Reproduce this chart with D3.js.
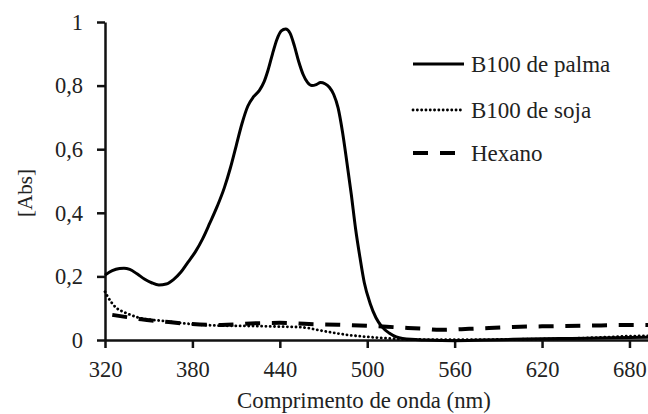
<!DOCTYPE html>
<html>
<head>
<meta charset="utf-8">
<script src="https://cdn.jsdelivr.net/npm/d3@7"></script>
<style>
  body { margin: 0; background: #fff; }
  svg { display: block; }
  text { font-family: "Liberation Serif", "Times New Roman", serif; fill: #222; }
</style>
</head>
<body>
<div id="chart"></div>
<script>
// Wavelength (nm) and absorbance
const palmaNm = [320, 325, 330, 333, 337, 342, 347, 352, 357, 362, 367, 372, 377, 382, 387, 392, 397, 402, 406, 410, 414, 418, 422, 426, 429, 432, 435, 438, 441, 444, 447, 450, 453, 456, 459, 462, 465, 468, 471, 474, 477, 480, 483, 486, 489, 492, 495, 498, 502, 506, 510, 515, 520, 530, 540, 560, 580, 600, 620, 640, 660, 680, 700];
const palmaAbs = [0.204, 0.218, 0.225, 0.226, 0.222, 0.208, 0.192, 0.180, 0.173, 0.176, 0.190, 0.213, 0.245, 0.277, 0.318, 0.368, 0.420, 0.480, 0.540, 0.610, 0.680, 0.735, 0.765, 0.785, 0.810, 0.850, 0.900, 0.945, 0.972, 0.978, 0.965, 0.925, 0.875, 0.835, 0.810, 0.800, 0.803, 0.810, 0.806, 0.795, 0.772, 0.730, 0.655, 0.560, 0.460, 0.350, 0.260, 0.180, 0.115, 0.070, 0.042, 0.022, 0.010, 0.002, 0.000, -0.002, 0.000, 0.002, 0.004, 0.005, 0.006, 0.008, 0.009];

const sojaNm = [320, 322, 325, 328, 331, 336, 345, 360, 380, 400, 420, 440, 455, 470, 485, 500, 515, 530, 560, 600, 640, 660, 680, 700];
const sojaAbs = [0.152, 0.135, 0.115, 0.100, 0.092, 0.082, 0.068, 0.060, 0.050, 0.045, 0.044, 0.042, 0.040, 0.028, 0.017, 0.010, 0.005, 0.002, 0.001, 0.002, 0.005, 0.008, 0.012, 0.013];

const hexanoNm = [325, 335, 345, 360, 380, 400, 420, 440, 460, 480, 500, 520, 540, 550, 570, 600, 620, 650, 680, 700];
const hexanoAbs = [0.079, 0.072, 0.065, 0.058, 0.050, 0.047, 0.052, 0.054, 0.050, 0.048, 0.045, 0.040, 0.035, 0.032, 0.035, 0.041, 0.043, 0.045, 0.047, 0.047];

const xTicks = [320, 380, 440, 500, 560, 620, 680];
const yTicks = [0, 0.2, 0.4, 0.6, 0.8, 1];

const seriesNames = ["B100 de palma", "B100 de soja", "Hexano"];

const width = 648, height = 414;

const svg = d3.select("#chart").append("svg")
    .attr("width", width)
    .attr("height", height);

const x = d3.scaleLinear().domain([320, 700]).range([105, 658.6]);
const y = d3.scaleLinear().domain([0, 1]).range([340, 22]);

const fmt = d => d === 0 ? "0" : d === 1 ? "1" : d3.format(".1f")(d).replace(".", ",");

// axes
const xAxis = svg.append("g")
    .attr("transform", `translate(0,${y(0)})`)
    .call(d3.axisBottom(x).tickValues(xTicks).tickSize(8).tickSizeOuter(0).tickPadding(13));

const yAxis = svg.append("g")
    .attr("transform", `translate(${x(320)},0)`)
    .call(d3.axisLeft(y).tickValues(yTicks).tickSize(8).tickSizeOuter(0).tickPadding(14).tickFormat(fmt));

[xAxis, yAxis].forEach(g => {
    g.select(".domain").attr("stroke", "#111").attr("stroke-width", 2.5);
    g.selectAll(".tick line").attr("stroke", "#111").attr("stroke-width", 2.5);
    g.selectAll(".tick text")
        .attr("fill", "#222")
        .style("font-family", "'Liberation Serif', serif")
        .style("font-size", "22.5px");
});

// axis titles
svg.append("text")
    .attr("x", 364)
    .attr("y", 408)
    .attr("text-anchor", "middle")
    .style("font-size", "22.8px")
    .text("Comprimento de onda (nm)");

svg.append("text")
    .attr("transform", `translate(32,193) rotate(-90)`)
    .attr("text-anchor", "middle")
    .style("font-size", "21px")
    .text("[Abs]");

// lines
const line = d3.line()
    .x(d => x(d[0]))
    .y(d => y(d[1]))
    .curve(d3.curveMonotoneX);

const styles = [
    { dash: null, width: 3, cap: "butt" },
    { dash: "0.1 4.2", width: 2.8, cap: "round" },
    { dash: "15 11.7", width: 4, cap: "butt" }
];

const series = [
    d3.zip(palmaNm, palmaAbs),
    d3.zip(sojaNm, sojaAbs),
    d3.zip(hexanoNm, hexanoAbs)
];

const plot = svg.append("g");
[2, 1, 0].forEach(i => {
    plot.append("path")
        .datum(series[i])
        .attr("fill", "none")
        .attr("stroke", "#000")
        .attr("stroke-width", styles[i].width)
        .attr("stroke-linecap", styles[i].cap)
        .attr("stroke-dasharray", styles[i].dash)
        .attr("d", line);
});

// legend
const legend = svg.append("g");
const legY = [64, 110, 153];
seriesNames.forEach((name, i) => {
    legend.append("line")
        .attr("x1", 413).attr("x2", i === 2 ? 455 : 464)
        .attr("y1", legY[i]).attr("y2", legY[i])
        .attr("stroke", "#000")
        .attr("stroke-width", styles[i].width)
        .attr("stroke-linecap", styles[i].cap)
        .attr("stroke-dasharray", i === 2 ? "15 12" : styles[i].dash);
    legend.append("text")
        .attr("x", 471)
        .attr("y", legY[i] + 8)
        .style("font-size", "23px")
        .text(name);
});
</script>
</body>
</html>
